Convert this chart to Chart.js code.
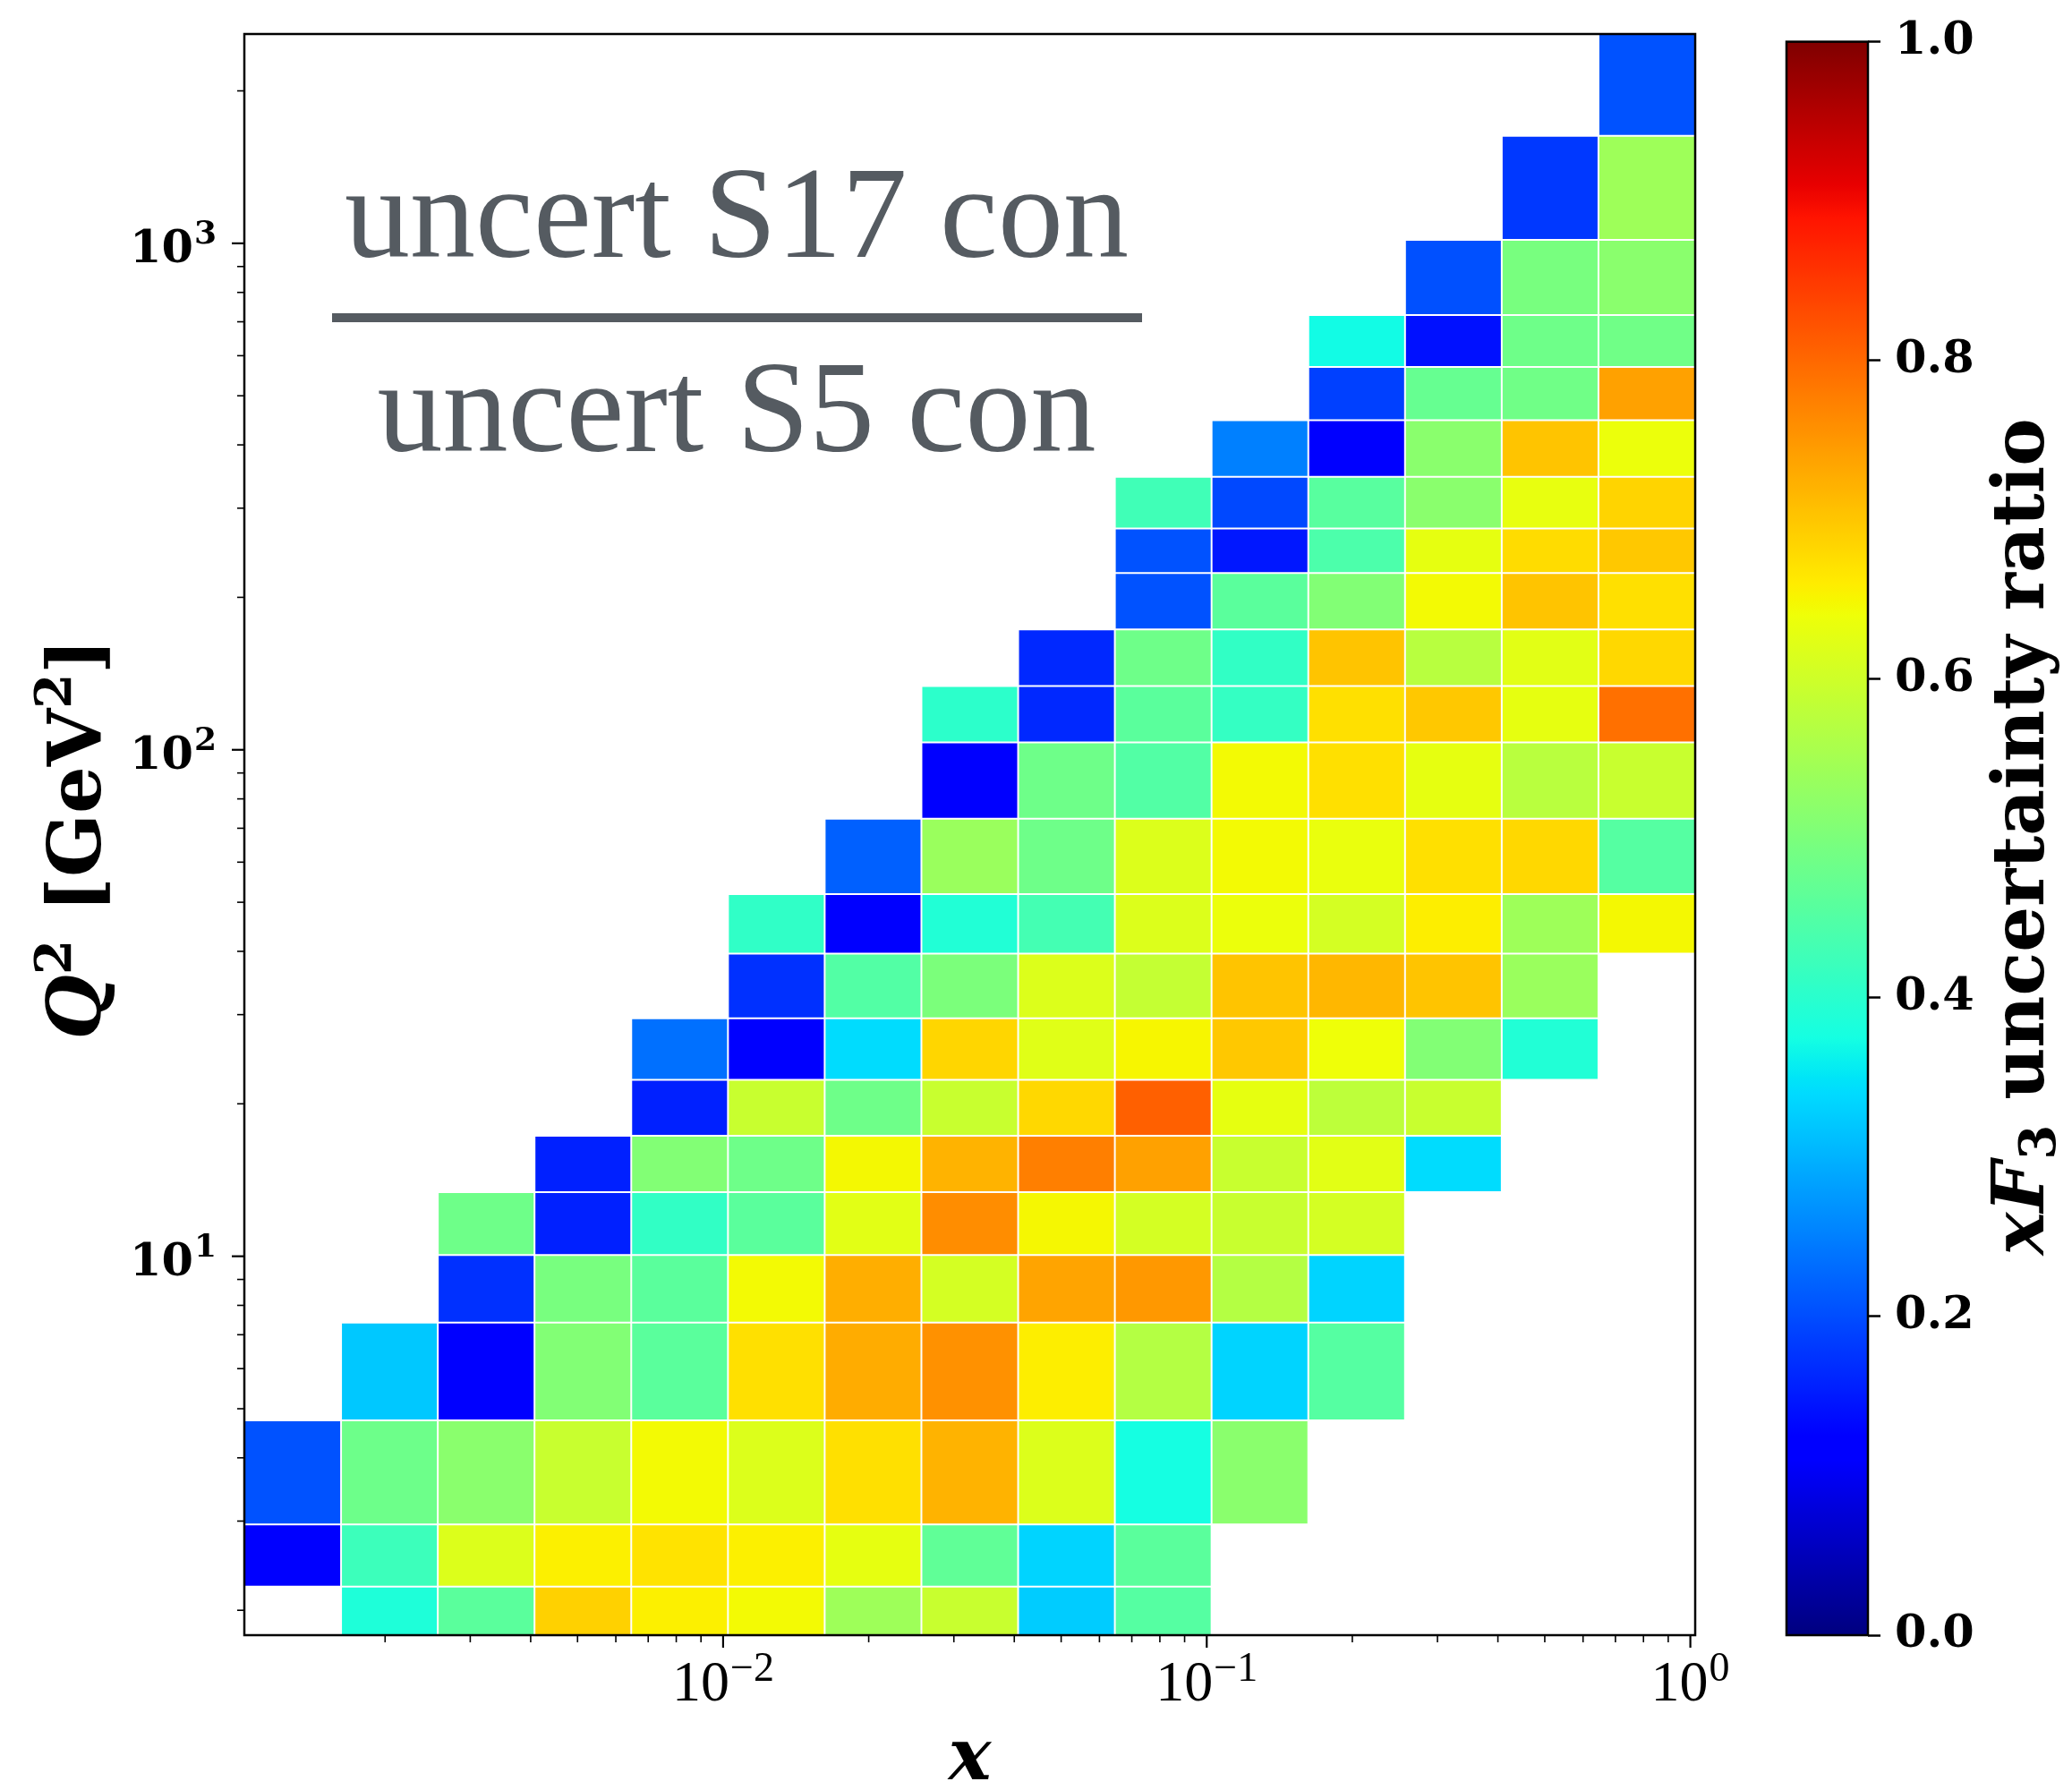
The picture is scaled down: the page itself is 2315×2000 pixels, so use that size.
<!DOCTYPE html>
<html>
<head>
<meta charset="utf-8">
<script src="https://cdn.jsdelivr.net/npm/chart.js@4.4.1/dist/chart.umd.min.js"></script>
<style>
  html, body { margin: 0; padding: 0; background: #ffffff; }
  #wrap { position: relative; width: 2315px; height: 2000px; background: #ffffff; }
  #main { position: absolute; left: 0; top: 0; }
  #cbar { position: absolute; left: 1960px; top: 0; }
</style>
</head>
<body>
<div id="wrap">
  <canvas id="main" width="1960" height="2000"></canvas>
  <canvas id="cbar" width="355" height="2000"></canvas>
</div>
<script>
// ---------------- DATA ----------------
// x bin edges (15 columns, log-spaced)
const xEdges = [0.0010233, 0.0016218, 0.0025704, 0.0040738, 0.0064565, 0.010233,
                0.016218, 0.025704, 0.040738, 0.064565, 0.10233, 0.16218,
                0.25704, 0.40738, 0.64565, 1.0233];
// Q^2 bin edges in GeV^2 (24 rows)
const q2Edges = [1.786, 2.228, 2.954, 4.74, 7.40, 10.06, 13.38, 17.3, 22.3, 29.5,
                 39.6, 51.9, 73.1, 103.4, 133.7, 172.8, 223.3, 273.5, 345.8, 447.7,
                 570, 722, 1016, 1630, 2590];
// xF3 uncertainty ratio per cell, one list per Q^2 bin (bottom to top), one entry per x bin
const ratioByQ2Bin = [
  [null, .386, .46, .689, .656, .645, .542, .593, .325, .453, null, null, null, null, null],
  [.118, .423, .617, .656, .67, .656, .63, .467, .333, .46, null, null, null, null, null],
  [.205, .482, .518, .593, .645, .617, .673, .72, .617, .375, .518, null, null, null, null],
  [null, .321, .118, .508, .46, .673, .728, .757, .658, .569, .333, .453, null, null, null],
  [null, null, .172, .496, .46, .645, .726, .608, .736, .749, .569, .333, null, null, null],
  [null, null, .484, .156, .41, .46, .625, .761, .648, .608, .593, .608, null, null, null],
  [null, null, null, .156, .508, .484, .647, .72, .776, .74, .593, .625, .341, null, null],
  [null, null, null, null, .156, .593, .484, .593, .681, .808, .63, .58, .593, null, null],
  [null, null, null, null, .235, .118, .341, .683, .622, .65, .698, .64, .508, .39, null],
  [null, null, null, null, null, .172, .45, .5, .617, .588, .703, .716, .703, .537, null],
  [null, null, null, null, null, .408, .118, .39, .433, .617, .637, .608, .658, .542, .647],
  [null, null, null, null, null, null, .219, .537, .484, .617, .645, .634, .673, .681, .453],
  [null, null, null, null, null, null, null, .125, .484, .45, .645, .673, .63, .575, .593],
  [null, null, null, null, null, null, null, .403, .164, .46, .413, .673, .698, .63, .791],
  [null, null, null, null, null, null, null, null, .164, .484, .41, .703, .574, .625, .681],
  [null, null, null, null, null, null, null, null, null, .205, .46, .508, .645, .703, .673],
  [null, null, null, null, null, null, null, null, null, .205, .148, .442, .63, .677, .698],
  [null, null, null, null, null, null, null, null, null, .428, .196, .457, .518, .632, .685],
  [null, null, null, null, null, null, null, null, null, null, .25, .118, .518, .703, .637],
  [null, null, null, null, null, null, null, null, null, null, null, .188, .474, .486, .74],
  [null, null, null, null, null, null, null, null, null, null, null, .372, .141, .484, .486],
  [null, null, null, null, null, null, null, null, null, null, null, null, .203, .496, .518],
  [null, null, null, null, null, null, null, null, null, null, null, null, null, .18, .542],
  [null, null, null, null, null, null, null, null, null, null, null, null, null, null, .205]
];
// tick labels
const xTickValues = [0.01, 0.1, 1];
const xTickLabels = ['10^-2', '10^-1', '10^0'];
const yTickValues = [10, 100, 1000];
const yTickLabels = ['10^1', '10^2', '10^3'];
const cbarTickValues = [0, 0.2, 0.4, 0.6, 0.8, 1.0];
const titleTop = 'uncert S17 con';
const titleBottom = 'uncert S5 con';

// ---------------- colormap (matplotlib "jet") ----------------
const jetR = [[0, 0], [0.35, 0], [0.66, 1], [0.89, 1], [1, 0.5]];
const jetG = [[0, 0], [0.125, 0], [0.375, 1], [0.64, 1], [0.91, 0], [1, 0]];
const jetB = [[0, 0.5], [0.11, 1], [0.34, 1], [0.65, 0], [1, 0]];
function seg(p, v) {
  for (let i = 1; i < p.length; i++) {
    if (v <= p[i][0]) {
      const [x0, y0] = p[i - 1], [x1, y1] = p[i];
      return y0 + (y1 - y0) * (v - x0) / (x1 - x0);
    }
  }
  return p[p.length - 1][1];
}
function jetCss(v) {
  v = Math.max(0, Math.min(1, v));
  return 'rgb(' + Math.round(255 * seg(jetR, v)) + ',' + Math.round(255 * seg(jetG, v)) + ',' + Math.round(255 * seg(jetB, v)) + ')';
}

// ---------------- helpers ----------------
function drawRich(ctx, segs, x, y) {
  let cx = x;
  for (const s of segs) {
    ctx.font = s.font;
    ctx.fillText(s.t, cx, y + (s.dy || 0));
    cx += ctx.measureText(s.t).width + (s.gap || 0);
  }
}
function richWidth(ctx, segs) {
  let w = 0;
  for (const s of segs) { ctx.font = s.font; w += ctx.measureText(s.t).width + (s.gap || 0); }
  return w;
}
function powSegs(label, baseFont, expFont, dy) {
  const [b, e] = label.split('^');
  return [{ t: b, font: baseFont, gap: 1 }, { t: e.replace('-', '\u2212'), font: expFont, dy: dy }];
}
function logTickList(min, max) {
  const out = [];
  for (let e = Math.floor(Math.log10(min)); e <= Math.ceil(Math.log10(max)); e++) {
    for (let k = 1; k <= 9; k++) {
      const v = k * Math.pow(10, e);
      if (v >= min * 1.0001 && v <= max) out.push({ v: v, major: k === 1 });
    }
  }
  return out;
}

// ---------------- main heat map ----------------
const datasets = ratioByQ2Bin.map((row, r) => {
  const data = [], colors = [];
  row.forEach((v, c) => {
    if (v === null) return;
    data.push({ x: Math.sqrt(xEdges[c] * xEdges[c + 1]), y: [q2Edges[r], q2Edges[r + 1]], v: v });
    colors.push(jetCss(v));
  });
  return {
    label: 'Q2 bin ' + (r + 1),
    data: data,
    backgroundColor: colors,
    borderColor: '#ffffff',
    borderWidth: 1,
    borderSkipped: false,
    inflateAmount: 0,
    grouped: false,
    barPercentage: 1,
    categoryPercentage: 1
  };
});

const mainDecor = {
  id: 'mainDecor',
  afterDraw(chart) {
    const { ctx, chartArea: ca, scales: { x, y } } = chart;
    ctx.save();
    // frame
    ctx.strokeStyle = '#000';
    ctx.lineWidth = 2.5;
    ctx.strokeRect(ca.left, ca.top, ca.right - ca.left, ca.bottom - ca.top);
    // ticks
    ctx.lineCap = 'butt';
    for (const t of logTickList(x.min, x.max)) {
      const px = x.getPixelForValue(t.v);
      ctx.lineWidth = t.major ? 2.2 : 1.6;
      ctx.beginPath(); ctx.moveTo(px, ca.bottom); ctx.lineTo(px, ca.bottom + (t.major ? 14 : 8)); ctx.stroke();
    }
    for (const t of logTickList(y.min, y.max)) {
      const py = y.getPixelForValue(t.v);
      ctx.lineWidth = t.major ? 2.2 : 1.6;
      ctx.beginPath(); ctx.moveTo(ca.left, py); ctx.lineTo(ca.left - (t.major ? 14 : 8), py); ctx.stroke();
    }
    // tick labels
    ctx.fillStyle = '#000';
    ctx.textBaseline = 'alphabetic';
    ctx.textAlign = 'left';
    xTickValues.forEach((v, i) => {
      const px = x.getPixelForValue(v);
      const segs = powSegs(xTickLabels[i], '64px "Liberation Serif"', '46px "Liberation Serif"', -22);
      const w = richWidth(ctx, segs);
      drawRich(ctx, segs, px - w / 2, ca.bottom + 73);
    });
    yTickValues.forEach((v, i) => {
      const py = y.getPixelForValue(v);
      const segs = powSegs(yTickLabels[i], 'bold 51px "DejaVu Serif"', 'bold 36px "DejaVu Serif"', -21);
      const w = richWidth(ctx, segs);
      drawRich(ctx, segs, 242 - w, py + 21);
    });
    // x axis title
    ctx.font = 'bold italic 80px "DejaVu Serif"';
    const wx = ctx.measureText('x').width;
    ctx.fillText('x', (ca.left + ca.right) / 2 - wx / 2, 1988);
    // y axis title (rotated)
    const ySegs = [
      { t: 'Q', font: 'bold italic 83px "DejaVu Serif"' },
      { t: '2', font: 'bold 56px "DejaVu Serif"', dy: -33, gap: 2 },
      { t: ' [GeV', font: 'bold 83px "DejaVu Serif"' },
      { t: '2', font: 'bold 56px "DejaVu Serif"', dy: -33 },
      { t: ']', font: 'bold 83px "DejaVu Serif"' }
    ];
    ctx.save();
    ctx.translate(112, (ca.top + ca.bottom) / 2 + 5);
    ctx.rotate(-Math.PI / 2);
    const wy = richWidth(ctx, ySegs);
    drawRich(ctx, ySegs, -wy / 2, 0);
    ctx.restore();
    // fraction title
    ctx.fillStyle = '#555b61';
    ctx.font = '146px "Liberation Serif"';
    ctx.textAlign = 'center';
    ctx.fillText(titleTop, 823, 287);
    ctx.fillText(titleBottom, 823, 504);
    ctx.fillRect(371, 350, 905, 10);
    ctx.restore();
  }
};

new Chart(document.getElementById('main'), {
  type: 'bar',
  data: { datasets: datasets },
  options: {
    responsive: false,
    animation: false,
    devicePixelRatio: 1,
    layout: { padding: { left: 273, top: 38, right: 66, bottom: 173 } },
    plugins: { legend: { display: false }, tooltip: { enabled: false } },
    scales: {
      x: {
        type: 'logarithmic', min: xEdges[0], max: xEdges[xEdges.length - 1],
        display: false, offset: false,
        afterBuildTicks: (s) => { s.ticks = xTickValues.map(v => ({ value: v })); }
      },
      y: {
        type: 'logarithmic', min: q2Edges[0], max: q2Edges[q2Edges.length - 1],
        display: false
      }
    }
  },
  plugins: [mainDecor]
});

// ---------------- colour bar ----------------
const cbarDecor = {
  id: 'cbarDecor',
  afterDraw(chart) {
    const { ctx, chartArea: ca } = chart;
    ctx.save();
    ctx.strokeStyle = '#000';
    ctx.lineWidth = 2.5;
    ctx.strokeRect(ca.left, ca.top, ca.right - ca.left, ca.bottom - ca.top);
    ctx.fillStyle = '#000';
    ctx.textBaseline = 'alphabetic';
    const segs = [
      { t: 'x', font: 'bold italic 80px "DejaVu Serif"' },
      { t: 'F', font: 'bold italic 80px "DejaVu Serif"', gap: 2 },
      { t: '3', font: 'bold 56px "DejaVu Serif"', dy: 13 },
      { t: ' uncertainty ratio', font: 'bold 80px "DejaVu Serif"' }
    ];
    ctx.translate(323, (ca.top + ca.bottom) / 2 - 2);
    ctx.rotate(-Math.PI / 2);
    const w = richWidth(ctx, segs);
    drawRich(ctx, segs, -w / 2, 0);
    ctx.restore();
  }
};

new Chart(document.getElementById('cbar'), {
  type: 'bar',
  data: {
    labels: ['xF3 uncertainty ratio'],
    datasets: [{
      data: [[cbarTickValues[0], cbarTickValues[cbarTickValues.length - 1]]],
      backgroundColor: (c) => {
        const ch = c.chart;
        if (!ch.chartArea) return '#000';
        const ys = ch.scales.y;
        const g = ch.ctx.createLinearGradient(0, ys.getPixelForValue(0), 0, ys.getPixelForValue(1));
        for (let i = 0; i <= 200; i++) g.addColorStop(i / 200, jetCss(i / 200));
        return g;
      },
      borderWidth: 0,
      barPercentage: 1,
      categoryPercentage: 1
    }]
  },
  options: {
    responsive: false,
    animation: false,
    devicePixelRatio: 1,
    layout: { padding: { left: 36, top: 39, right: 0, bottom: 173 } },
    plugins: { legend: { display: false }, tooltip: { enabled: false } },
    scales: {
      x: { display: false },
      y: {
        position: 'right', min: 0, max: 1,
        afterBuildTicks: (s) => { s.ticks = cbarTickValues.map(v => ({ value: v })); },
        ticks: {
          callback: (v) => Number(v).toFixed(1),
          color: '#000',
          font: { family: 'DejaVu Serif', weight: 'bold', size: 51 },
          padding: 16
        },
        grid: { drawOnChartArea: false, tickLength: 14, tickWidth: 2.5, tickColor: '#000' },
        border: { display: false },
        afterFit: (s) => { s.width = 228; }
      }
    }
  },
  plugins: [cbarDecor]
});
</script>
</body>
</html>
